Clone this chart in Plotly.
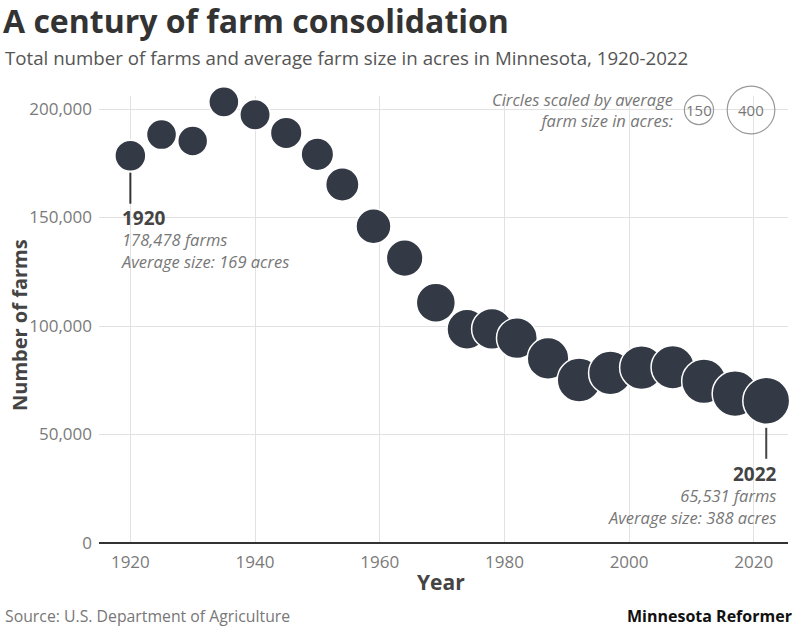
import plotly.graph_objects as go

# ---- data ----
years = [1920, 1925, 1930, 1935, 1940, 1945, 1950, 1954, 1959, 1964, 1969,
         1974, 1978, 1982, 1987, 1992, 1997, 2002, 2007, 2012, 2017, 2022]
farms = [178478, 188231, 185255, 203302, 197351, 188952, 179101, 165225, 145977,
         131301, 110747, 98497, 98669, 94382, 85079, 75079, 78399, 80839, 80992,
         74542, 68822, 65531]
acres = [169, 160, 158, 160, 163, 176, 187, 196, 216, 237, 269,
         282, 292, 294, 306, 342, 336, 340, 332, 349, 371, 388]
legend_sizes = [150, 400]
x_ticks = [1920, 1940, 1960, 1980, 2000, 2020]
y_ticks = [0, 50000, 100000, 150000, 200000]

K = 2.38                   # px of diameter per sqrt(acre)
SIZEREF = 2 / K ** 2       # plotly area mode: diameter = sqrt(2*v/sizeref)
DARK = "#343a45"
FONT = "Open Sans"

fig = go.Figure()
fig.add_trace(go.Scatter(
    x=years, y=farms, mode="markers",
    marker=dict(size=acres, sizemode="area", sizeref=SIZEREF, color=DARK,
                line=dict(color="white", width=1.5), opacity=1),
    cliponaxis=False, hoverinfo="skip", showlegend=False))

shapes = []
# white strip at the top of the plot area and white box behind the size legend
shapes.append(dict(type="rect", xref="paper", yref="paper", x0=-0.01, x1=1.02,
                   y0=0.980, y1=1.01, fillcolor="white", line=dict(width=0),
                   layer="between"))
shapes.append(dict(type="rect", xref="paper", yref="paper", x0=0.538, x1=1.02,
                   y0=0.879, y1=1.01, fillcolor="white", line=dict(width=0),
                   layer="between"))
# legend circles
leg_x = [0.8708, 0.9463]
leg_y = 0.9687
for sz, lx in zip(legend_sizes, leg_x):
    r = K * sz ** 0.5 / 2
    shapes.append(dict(type="circle", xref="paper", yref="paper",
                       xsizemode="pixel", ysizemode="pixel",
                       xanchor=lx, yanchor=leg_y, x0=-r, x1=r, y0=-r, y1=r,
                       line=dict(color="#999", width=1.2), fillcolor="rgba(0,0,0,0)"))
# leader lines
shapes.append(dict(type="line", xref="x", yref="y", ysizemode="pixel",
                   x0=years[0], x1=years[0], yanchor=farms[0], y0=-17, y1=-48,
                   line=dict(color="#333", width=2)))
shapes.append(dict(type="line", xref="x", yref="y", ysizemode="pixel",
                   x0=years[-1], x1=years[-1], yanchor=farms[-1], y0=-27, y1=-58,
                   line=dict(color="#444", width=2)))

annotations = []
for sz, lx in zip(legend_sizes, leg_x):
    annotations.append(dict(xref="paper", yref="paper", x=lx, y=leg_y, text=str(sz),
                            showarrow=False, font=dict(family=FONT, size=15, color="#777"),
                            xanchor="center", yanchor="middle"))
annotations.append(dict(xref="paper", yref="paper", x=0.836, y=0.9676,
                        text="<i>Circles scaled by average<br>farm size in acres:</i>",
                        showarrow=False, align="right", xanchor="right", yanchor="middle",
                        font=dict(family=FONT, size=16.5, color="#777")))


def label(i):
    return (f"<span style='font-size:19px;color:#444'><b>{years[i]}</b></span><br>"
            f"<i>{farms[i]:,} farms</i><br><i>Average size: {acres[i]} acres</i>")


annotations.append(dict(xref="x", yref="y", x=years[0], y=farms[0], text=label(0),
                        showarrow=False, align="left", xanchor="left", yanchor="top",
                        xshift=-11, yshift=-47,
                        font=dict(family=FONT, size=16.5, color="#777")))
annotations.append(dict(xref="x", yref="y", x=years[-1], y=farms[-1],
                        text=label(len(years) - 1),
                        showarrow=False, align="right", xanchor="right", yanchor="top",
                        xshift=13, yshift=-58,
                        font=dict(family=FONT, size=16.5, color="#777")))
# axis titles
annotations.append(dict(xref="paper", yref="paper", x=-0.1147, y=0.4877, text="<b>Number of farms</b>",
                        textangle=-90, showarrow=False, xanchor="center", yanchor="middle",
                        font=dict(family=FONT, size=20, color="#444")))
annotations.append(dict(xref="paper", yref="paper", x=0.496, y=-0.0872, text="<b>Year</b>",
                        showarrow=False, xanchor="center", yanchor="middle",
                        font=dict(family=FONT, size=21, color="#444")))
# subtitle and footer
annotations.append(dict(xref="paper", yref="paper", x=-0.1393, y=1.0872,
                        text="Total number of farms and average farm size in acres in Minnesota, 1920-2022",
                        showarrow=False, xanchor="left", yanchor="middle",
                        font=dict(family=FONT, size=18.7, color="#555")))
annotations.append(dict(xref="paper", yref="paper", x=-0.1393, y=-0.1633,
                        text="Source: U.S. Department of Agriculture",
                        showarrow=False, xanchor="left", yanchor="middle",
                        font=dict(family=FONT, size=15.8, color="#777")))
annotations.append(dict(xref="paper", yref="paper", x=1.0087, y=-0.1633,
                        text="<b>Minnesota Reformer</b>",
                        showarrow=False, xanchor="right", yanchor="middle",
                        font=dict(family=FONT, size=16, color="#111")))

fig.update_layout(
    width=800, height=632,
    margin=dict(l=99, r=12, t=96, b=89),
    paper_bgcolor="white", plot_bgcolor="white",
    title=dict(text="<b>A century of farm consolidation</b>", x=3 / 800, xanchor="left",
               xref="container", y=1 - 22 / 632, yanchor="middle",
               font=dict(family=FONT, size=32, color="#333")),
    xaxis=dict(range=[1914.97, 2025.49], tickvals=x_ticks, showgrid=True,
               gridcolor="#e2e2e2", gridwidth=1, zeroline=False, showline=False,
               ticks="", ticklabelstandoff=7,
               tickfont=dict(family=FONT, size=17, color="#7a7a7a")),
    yaxis=dict(range=[0, 206000], tickvals=y_ticks, tickformat=",", showgrid=True,
               gridcolor="#e2e2e2", gridwidth=1, zeroline=True, zerolinecolor="#333",
               zerolinewidth=2, showline=False, ticks="", ticklabelstandoff=6,
               tickfont=dict(family=FONT, size=17, color="#7a7a7a")),
    shapes=shapes, annotations=annotations,
)

fig.write_html("out.html")
